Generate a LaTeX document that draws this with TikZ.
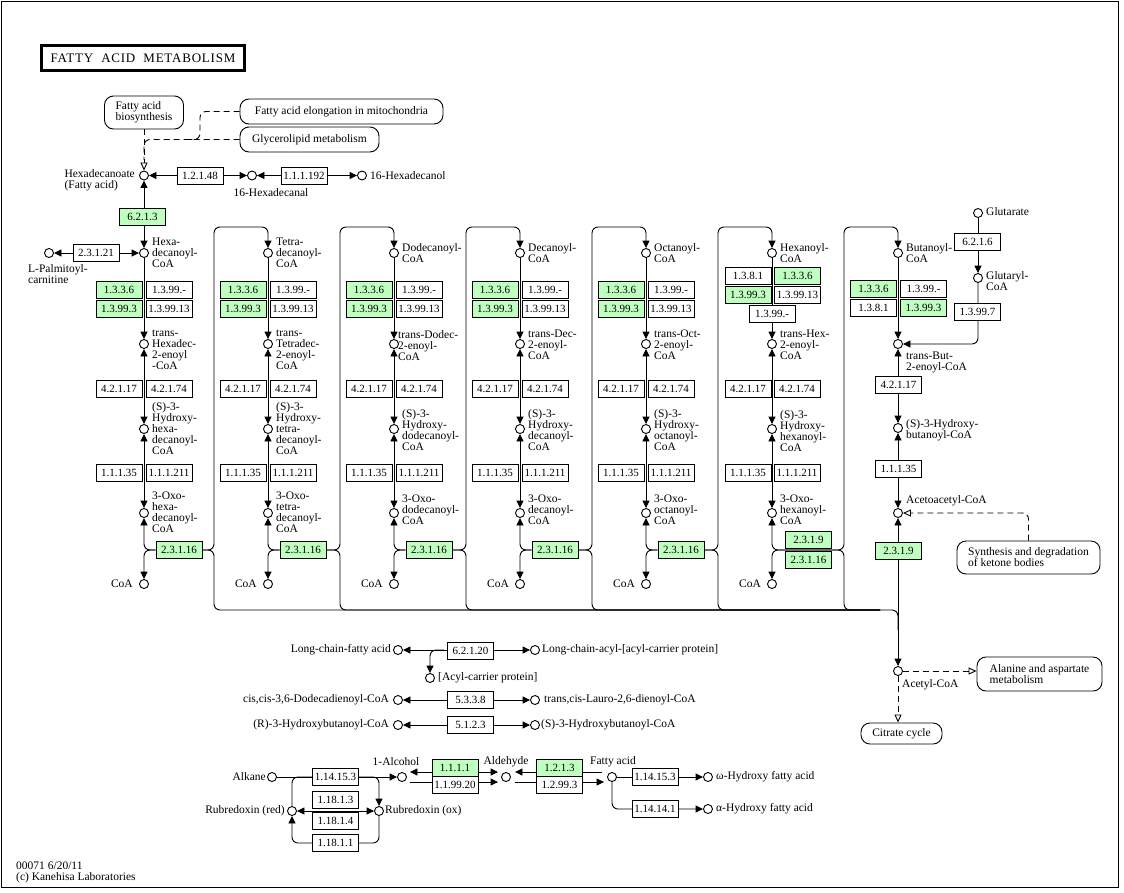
\documentclass[tikz,border=0pt]{standalone}
\usepackage{fontspec}
\setmainfont{Liberation Serif}
\newfontfamily\titlefont[LetterSpace=6]{Liberation Serif}
\usetikzlibrary{arrows.meta,backgrounds,positioning}
\definecolor{keggreen}{RGB}{191,255,191}

\begin{document}
\begin{tikzpicture}[x=1pt, y=-1pt, font=\fontsize{11.5}{11}\selectfont, >={Triangle[length=7.5pt,width=7pt]}]
	\tikzstyle{Cpd}    = [circle, draw, fill=white, minimum size=9pt, inner sep=0pt, line width=0.9pt]
	\tikzstyle{Enz}    = [rectangle, draw, fill=white, minimum width=46pt, minimum height=17pt, inner sep=0pt, line width=0.9pt, font=\fontsize{11}{11}\selectfont]
	\tikzstyle{GEnz}   = [Enz, fill=keggreen]
	\tikzstyle{MapBox} = [rectangle, rounded corners=9pt, draw, fill=white, align=left, inner sep=0pt, line width=0.9pt]
	\tikzstyle{Lbl}    = [inner sep=1pt, align=left]
	\tikzstyle{Rx}     = [line width=0.9pt]
	\tikzstyle{DashLn} = [line width=0.9pt, dash pattern=on 6pt off 4pt]
	\tikzstyle{MapTip} = [-{Triangle[open,length=8pt,width=7pt]}]

	\useasboundingbox (0,0) rectangle (1124,892);
	\draw[line width=1pt] (1.5,1.5) rectangle (1118.5,887.5);

	% title and pathway maps
	\node[draw, line width=2.5pt, minimum width=203pt, minimum height=25pt, inner sep=0pt] (title) at (143,58) {\titlefont\fontsize{13}{13}\selectfont FATTY\ \ ACID\ \ METABOLISM};
	\node[MapBox, minimum width=79pt, minimum height=33pt] (mFAB) at (144,112.5) {Fatty acid\\biosynthesis};
	\node[MapBox, minimum width=203pt, minimum height=25pt] (mElong) at (341.5,111.5) {Fatty acid elongation in mitochondria};
	\node[MapBox, minimum width=139pt, minimum height=25pt] (mGly) at (309.5,139.5) {Glycerolipid metabolism};
	\node[MapBox, minimum width=143pt, minimum height=33pt] (mKet) at (1028.5,557.5) {Synthesis and degradation\\of ketone bodies};
	\node[MapBox, minimum width=125pt, minimum height=34pt] (mAla) at (1039.5,674) {Alanine and aspartate\\metabolism};
	\node[MapBox, minimum width=81pt, minimum height=21pt] (mTCA) at (901.5,733.5) {Citrate cycle};

	% top row
	\node[Cpd] (hexa) at (144,175.5) {};
	\node[Lbl, anchor=east] (lhexa) at (136,180) {Hexadecanoate\\(Fatty acid)};
	\node[Enz] (eHal) at (200,175.5) {1.2.1.48};
	\node[Cpd] (hdal) at (252,175.5) {};
	\node[Lbl] (lhdal) at (271,193) {16-Hexadecanal};
	\node[Enz] (eHol) at (304,175.5) {1.1.1.192};
	\node[Cpd] (hdol) at (362,175.5) {};
	\node[Lbl, anchor=west] (lhdol) at (369,175.5) {16-Hexadecanol};
	\node[GEnz] (eAcs) at (142.5,216.5) {6.2.1.3};
	\node[Cpd] (pcarn) at (49,253) {};
	\node[Lbl, anchor=north west] (lpcarn) at (27,263) {L-Palmitoyl-\\carnitine};
	\node[Enz] (eCpt) at (96,253) {2.3.1.21};
	\coordinate (dj) at (144,160);
	\coordinate (dj2) at (200,139.5);
	\coordinate (dj1) at (188,139.5);

	% column 1: C16
	\node[Cpd] (c1a) at (144,253) {};
	\node[Cpd] (c1t) at (144,344) {};
	\node[Cpd] (c1h) at (144,429) {};
	\node[Cpd] (c1o) at (144,513) {};
	\node[Cpd] (c1c) at (144,584) {};
	\node[Lbl, anchor=west] (lc1a) at (151,253) {Hexa-\\decanoyl-\\CoA};
	\node[Lbl, anchor=north west] (lc1t) at (151,329) {trans-\\Hexadec-\\2-enoyl\\-CoA};
	\node[Lbl, anchor=west] (lc1h) at (151,429) {(S)-3-\\Hydroxy-\\hexa-\\decanoyl-\\CoA};
	\node[Lbl, anchor=west] (lc1o) at (151,512) {3-Oxo-\\hexa-\\decanoyl-\\CoA};
	\node[Lbl, anchor=east] (lc1c) at (134,584) {CoA};
	\node[GEnz] (c1d1) at (119,290) {1.3.3.6};
	\node[Enz]  (c1d2) at (169,290) {1.3.99.-};
	\node[GEnz] (c1d3) at (119,308.5) {1.3.99.3};
	\node[Enz]  (c1d4) at (169,308.5) {1.3.99.13};
	\node[Enz]  (c1w1) at (119,389) {4.2.1.17};
	\node[Enz]  (c1w2) at (169,389) {4.2.1.74};
	\node[Enz]  (c1r1) at (119,473) {1.1.1.35};
	\node[Enz]  (c1r2) at (169,473) {1.1.1.211};
	\node[GEnz] (c1k) at (179,550) {2.3.1.16};

	% column 2: C14
	\node[Cpd] (c2a) at (268,253) {};
	\node[Cpd] (c2t) at (268,344) {};
	\node[Cpd] (c2h) at (268,429) {};
	\node[Cpd] (c2o) at (268,513) {};
	\node[Cpd] (c2c) at (268,584) {};
	\node[Lbl, anchor=west] (lc2a) at (275,253) {Tetra-\\decanoyl-\\CoA};
	\node[Lbl, anchor=north west] (lc2t) at (275,329) {trans-\\Tetradec-\\2-enoyl-\\CoA};
	\node[Lbl, anchor=west] (lc2h) at (275,429) {(S)-3-\\Hydroxy-\\tetra-\\decanoyl-\\CoA};
	\node[Lbl, anchor=west] (lc2o) at (275,512) {3-Oxo-\\tetra-\\decanoyl-\\CoA};
	\node[Lbl, anchor=east] (lc2c) at (258,584) {CoA};
	\node[GEnz] (c2d1) at (243,290) {1.3.3.6};
	\node[Enz]  (c2d2) at (293,290) {1.3.99.-};
	\node[GEnz] (c2d3) at (243,308.5) {1.3.99.3};
	\node[Enz]  (c2d4) at (293,308.5) {1.3.99.13};
	\node[Enz]  (c2w1) at (243,389) {4.2.1.17};
	\node[Enz]  (c2w2) at (293,389) {4.2.1.74};
	\node[Enz]  (c2r1) at (243,473) {1.1.1.35};
	\node[Enz]  (c2r2) at (293,473) {1.1.1.211};
	\node[GEnz] (c2k) at (303,550) {2.3.1.16};

	% column 3: C12
	\node[Cpd] (c3a) at (394,253) {};
	\node[Cpd] (c3t) at (394,344) {};
	\node[Cpd] (c3h) at (394,429) {};
	\node[Cpd] (c3o) at (394,513) {};
	\node[Cpd] (c3c) at (394,584) {};
	\node[Lbl, anchor=west] (lc3a) at (401,253) {Dodecanoyl-\\CoA};
	\node[Lbl, anchor=north west] (lc3t) at (397,329) {trans-Dodec-\\2-enoyl-\\CoA};
	\node[Lbl, anchor=west] (lc3h) at (401,430) {(S)-3-\\Hydroxy-\\dodecanoyl-\\CoA};
	\node[Lbl, anchor=west] (lc3o) at (401,510) {3-Oxo-\\dodecanoyl-\\CoA};
	\node[Lbl, anchor=east] (lc3c) at (384,584) {CoA};
	\node[GEnz] (c3d1) at (369,290) {1.3.3.6};
	\node[Enz]  (c3d2) at (419,290) {1.3.99.-};
	\node[GEnz] (c3d3) at (369,308.5) {1.3.99.3};
	\node[Enz]  (c3d4) at (419,308.5) {1.3.99.13};
	\node[Enz]  (c3w1) at (369,389) {4.2.1.17};
	\node[Enz]  (c3w2) at (419,389) {4.2.1.74};
	\node[Enz]  (c3r1) at (369,473) {1.1.1.35};
	\node[Enz]  (c3r2) at (419,473) {1.1.1.211};
	\node[GEnz] (c3k) at (429,550) {2.3.1.16};

	% column 4: C10
	\node[Cpd] (c4a) at (520,253) {};
	\node[Cpd] (c4t) at (520,344) {};
	\node[Cpd] (c4h) at (520,429) {};
	\node[Cpd] (c4o) at (520,513) {};
	\node[Cpd] (c4c) at (520,584) {};
	\node[Lbl, anchor=west] (lc4a) at (527,253) {Decanoyl-\\CoA};
	\node[Lbl, anchor=north west] (lc4t) at (527,329) {trans-Dec-\\2-enoyl-\\CoA};
	\node[Lbl, anchor=west] (lc4h) at (527,430) {(S)-3-\\Hydroxy-\\decanoyl-\\CoA};
	\node[Lbl, anchor=west] (lc4o) at (527,510) {3-Oxo-\\decanoyl-\\CoA};
	\node[Lbl, anchor=east] (lc4c) at (510,584) {CoA};
	\node[GEnz] (c4d1) at (495,290) {1.3.3.6};
	\node[Enz]  (c4d2) at (545,290) {1.3.99.-};
	\node[GEnz] (c4d3) at (495,308.5) {1.3.99.3};
	\node[Enz]  (c4d4) at (545,308.5) {1.3.99.13};
	\node[Enz]  (c4w1) at (495,389) {4.2.1.17};
	\node[Enz]  (c4w2) at (545,389) {4.2.1.74};
	\node[Enz]  (c4r1) at (495,473) {1.1.1.35};
	\node[Enz]  (c4r2) at (545,473) {1.1.1.211};
	\node[GEnz] (c4k) at (555,550) {2.3.1.16};

	% column 5: C8
	\node[Cpd] (c5a) at (646,253) {};
	\node[Cpd] (c5t) at (646,344) {};
	\node[Cpd] (c5h) at (646,429) {};
	\node[Cpd] (c5o) at (646,513) {};
	\node[Cpd] (c5c) at (646,584) {};
	\node[Lbl, anchor=west] (lc5a) at (653,253) {Octanoyl-\\CoA};
	\node[Lbl, anchor=north west] (lc5t) at (653,329) {trans-Oct-\\2-enoyl-\\CoA};
	\node[Lbl, anchor=west] (lc5h) at (653,430) {(S)-3-\\Hydroxy-\\octanoyl-\\CoA};
	\node[Lbl, anchor=west] (lc5o) at (653,510) {3-Oxo-\\octanoyl-\\CoA};
	\node[Lbl, anchor=east] (lc5c) at (636,584) {CoA};
	\node[GEnz] (c5d1) at (621,290) {1.3.3.6};
	\node[Enz]  (c5d2) at (671,290) {1.3.99.-};
	\node[GEnz] (c5d3) at (621,308.5) {1.3.99.3};
	\node[Enz]  (c5d4) at (671,308.5) {1.3.99.13};
	\node[Enz]  (c5w1) at (621,389) {4.2.1.17};
	\node[Enz]  (c5w2) at (671,389) {4.2.1.74};
	\node[Enz]  (c5r1) at (621,473) {1.1.1.35};
	\node[Enz]  (c5r2) at (671,473) {1.1.1.211};
	\node[GEnz] (c5k) at (681,550) {2.3.1.16};

	% column 6: C6
	\node[Cpd] (c6a) at (772,253) {};
	\node[Cpd] (c6t) at (772,344) {};
	\node[Cpd] (c6h) at (772,429) {};
	\node[Cpd] (c6o) at (772,513) {};
	\node[Cpd] (c6c) at (772,584) {};
	\node[Lbl, anchor=west] (lc6a) at (779,253) {Hexanoyl-\\CoA};
	\node[Lbl, anchor=north west] (lc6t) at (779,329) {trans-Hex-\\2-enoyl-\\CoA};
	\node[Lbl, anchor=west] (lc6h) at (779,431) {(S)-3-\\Hydroxy-\\hexanoyl-\\CoA};
	\node[Lbl, anchor=west] (lc6o) at (779,510) {3-Oxo-\\hexanoyl-\\CoA};
	\node[Lbl, anchor=east] (lc6c) at (762,584) {CoA};
	\node[Enz]  (c6d1) at (748,276) {1.3.8.1};
	\node[GEnz] (c6d2) at (797.5,276) {1.3.3.6};
	\node[GEnz] (c6d3) at (748,294.5) {1.3.99.3};
	\node[Enz]  (c6d4) at (797.5,294.5) {1.3.99.13};
	\node[Enz]  (c6d5) at (772,314) {1.3.99.-};
	\node[Enz]  (c6w1) at (748,389) {4.2.1.17};
	\node[Enz]  (c6w2) at (797,389) {4.2.1.74};
	\node[Enz]  (c6r1) at (748,473) {1.1.1.35};
	\node[Enz]  (c6r2) at (797,473) {1.1.1.211};
	\node[GEnz] (c6k1) at (808.5,539.5) {2.3.1.9};
	\node[GEnz] (c6k2) at (808.5,560) {2.3.1.16};
	\coordinate (c6k) at (808.5,550);

	% column 7: C4
	\node[Cpd] (c7a) at (898,253) {};
	\node[Cpd] (c7t) at (898,344) {};
	\node[Cpd] (c7h) at (898,428) {};
	\node[Cpd] (c7o) at (898,513) {};
	\node[Cpd] (acet) at (898,671) {};
	\node[Lbl, anchor=west] (lc7a) at (905,253) {Butanoyl-\\CoA};
	\node[Lbl, anchor=north west] (lc7t) at (905,351) {trans-But-\\2-enoyl-CoA};
	\node[Lbl, anchor=west] (lc7h) at (905,430) {(S)-3-Hydroxy-\\butanoyl-CoA};
	\node[Lbl, anchor=west] (lc7o) at (905,501) {Acetoacetyl-CoA};
	\node[Lbl, anchor=west] (lacet) at (901,685) {Acetyl-CoA};
	\node[GEnz] (c7d1) at (873.5,288.5) {1.3.3.6};
	\node[Enz]  (c7d2) at (923.5,288.5) {1.3.99.-};
	\node[Enz]  (c7d3) at (873.5,307.5) {1.3.8.1};
	\node[GEnz] (c7d4) at (923.5,307.5) {1.3.99.3};
	\node[Enz]  (c7w) at (898.5,385) {4.2.1.17};
	\node[Enz]  (c7r) at (898.5,469) {1.1.1.35};
	\node[GEnz] (c7k) at (898.5,551) {2.3.1.9};
	\node[Cpd] (glt) at (978,213) {};
	\node[Lbl, anchor=west] (lglt) at (985,212) {Glutarate};
	\node[Enz] (eGcs) at (977.5,241.5) {6.2.1.6};
	\node[Cpd] (glc) at (978,278) {};
	\node[Lbl, anchor=west] (lglc) at (985,281) {Glutaryl-\\CoA};
	\node[Enz] (eGcd) at (977.5,311.5) {1.3.99.7};

	% single reactions
	\node[Cpd] (lcfa) at (398,650) {};
	\node[Lbl, anchor=east] (llcfa) at (392,650) {Long-chain-fatty acid};
	\node[Enz] (eAas) at (470.5,651) {6.2.1.20};
	\node[Cpd] (lcacp) at (535,650) {};
	\node[Lbl, anchor=west] (llcacp) at (541,650) {Long-chain-acyl-[acyl-carrier protein]};
	\node[Cpd] (acp) at (430,678) {};
	\node[Lbl, anchor=west] (lacp) at (437,678) {[Acyl-carrier protein]};
	\coordinate (acpj) at (444,650);
	\node[Cpd] (ccdd) at (398,700) {};
	\node[Lbl, anchor=east] (lccdd) at (390,700) {cis,cis-3,6-Dodecadienoyl-CoA};
	\node[Enz] (eIso) at (470.5,700) {5.3.3.8};
	\node[Cpd] (tcld) at (535,700) {};
	\node[Lbl, anchor=west] (ltcld) at (543,700) {trans,cis-Lauro-2,6-dienoyl-CoA};
	\node[Cpd] (rhb) at (398,725) {};
	\node[Lbl, anchor=east] (lrhb) at (390,725) {(R)-3-Hydroxybutanoyl-CoA};
	\node[Enz] (eEpi) at (470.5,725) {5.1.2.3};
	\node[Cpd] (shb) at (535,725) {};
	\node[Lbl, anchor=west] (lshb) at (540,725) {(S)-3-Hydroxybutanoyl-CoA};

	% alkane oxidation
	\node[Cpd] (alk) at (272,777) {};
	\node[Lbl, anchor=east] (lalk) at (267,777) {Alkane};
	\node[Enz] (eAlkA) at (335.5,777) {1.14.15.3};
	\node[Cpd] (alc) at (402,777) {};
	\node[Lbl] (lalc) at (396,762) {1-Alcohol};
	\node[Cpd] (rred) at (292,811) {};
	\node[Lbl, anchor=east] (lrred) at (286,811) {Rubredoxin (red)};
	\node[Cpd] (rox) at (379,811) {};
	\node[Lbl, anchor=west] (lrox) at (384,811) {Rubredoxin (ox)};
	\node[Enz] (eRub1) at (335.5,800) {1.18.1.3};
	\node[Enz] (eRub2) at (335.5,821) {1.18.1.4};
	\node[Enz] (eRub3) at (335.5,843) {1.18.1.1};
	\coordinate (rj1) at (312,777);
	\coordinate (rj2) at (359,777);
	\node[GEnz] (eAdh1) at (455,767.5) {1.1.1.1};
	\node[Enz]  (eAdh2) at (455,785) {1.1.99.20};
	\node[Cpd] (ald) at (506,777) {};
	\node[Lbl] (lald) at (506,762) {Aldehyde};
	\node[GEnz] (eAld1) at (559.5,767.5) {1.2.1.3};
	\node[Enz]  (eAld2) at (559.5,785) {1.2.99.3};
	\node[Cpd] (fa) at (612,777) {};
	\node[Lbl] (lfa) at (613,762) {Fatty acid};
	\node[Enz] (eAlkB) at (655,777) {1.14.15.3};
	\node[Enz] (eAlkC) at (655,809) {1.14.14.1};
	\node[Cpd] (ohfa) at (708,777) {};
	\node[Lbl, anchor=west] (lohfa) at (715,777) {ω-Hydroxy fatty acid};
	\node[Cpd] (ahfa) at (708,809) {};
	\node[Lbl, anchor=west] (lahfa) at (715,809) {α-Hydroxy fatty acid};

	\node[Lbl, anchor=north west] (foot) at (15,861) {00071 6/20/11\\(c) Kanehisa Laboratories};

	\begin{scope}[on background layer]
		% map links
		\draw[DashLn, MapTip] (mFAB) -- (hexa);
		\draw[DashLn, rounded corners=6pt] (mGly.west) -| (dj);
		\draw[DashLn, rounded corners=6pt] (mElong.west) -| (dj2) -- (dj1);
		\draw[DashLn, MapTip, rounded corners=6pt] (mKet.north) |- (c7o);
		\draw[DashLn, MapTip] (acet) -- (acet -| mAla.west);
		\draw[DashLn, MapTip] (acet) -- (acet |- mTCA.north);

		% top row
		\draw[Rx, <->] (hexa) -- (hdal);
		\draw[Rx, <->] (hdal) -- (hdol);
		\draw[Rx, <->] (hexa) -- (c1a);
		\draw[Rx, <->] (pcarn) -- (c1a);

		% beta-oxidation columns
		\draw[Rx, ->] (c1a) -- (c1t);
		\draw[Rx, <->] (c1t) -- (c1h);
		\draw[Rx, <->] (c1h) -- (c1o);
		\draw[Rx, <-, rounded corners=6pt] (c1o) |- (c1k.west);
		\draw[Rx, ->, rounded corners=6pt] (c1k.west) -| (c1c);
		\draw[Rx, ->, rounded corners=6pt] (c1k.east) -| (214,227) -| (c2a);
		\draw[Rx, rounded corners=6pt] (c1k.east) -| (214,610) -| (898,630);

		\draw[Rx, ->] (c2a) -- (c2t);
		\draw[Rx, <->] (c2t) -- (c2h);
		\draw[Rx, <->] (c2h) -- (c2o);
		\draw[Rx, <-, rounded corners=6pt] (c2o) |- (c2k.west);
		\draw[Rx, ->, rounded corners=6pt] (c2k.west) -| (c2c);
		\draw[Rx, ->, rounded corners=6pt] (c2k.east) -| (340,227) -| (c3a);
		\draw[Rx, rounded corners=6pt] (c2k.east) -| (340,610) -- (880,610);

		\draw[Rx, ->] (c3a) -- (c3t);
		\draw[Rx, <->] (c3t) -- (c3h);
		\draw[Rx, <->] (c3h) -- (c3o);
		\draw[Rx, <-, rounded corners=6pt] (c3o) |- (c3k.west);
		\draw[Rx, ->, rounded corners=6pt] (c3k.west) -| (c3c);
		\draw[Rx, ->, rounded corners=6pt] (c3k.east) -| (466,227) -| (c4a);
		\draw[Rx, rounded corners=6pt] (c3k.east) -| (466,610) -- (880,610);

		\draw[Rx, ->] (c4a) -- (c4t);
		\draw[Rx, <->] (c4t) -- (c4h);
		\draw[Rx, <->] (c4h) -- (c4o);
		\draw[Rx, <-, rounded corners=6pt] (c4o) |- (c4k.west);
		\draw[Rx, ->, rounded corners=6pt] (c4k.west) -| (c4c);
		\draw[Rx, ->, rounded corners=6pt] (c4k.east) -| (592,227) -| (c5a);
		\draw[Rx, rounded corners=6pt] (c4k.east) -| (592,610) -- (880,610);

		\draw[Rx, ->] (c5a) -- (c5t);
		\draw[Rx, <->] (c5t) -- (c5h);
		\draw[Rx, <->] (c5h) -- (c5o);
		\draw[Rx, <-, rounded corners=6pt] (c5o) |- (c5k.west);
		\draw[Rx, ->, rounded corners=6pt] (c5k.west) -| (c5c);
		\draw[Rx, ->, rounded corners=6pt] (c5k.east) -| (718,227) -| (c6a);
		\draw[Rx, rounded corners=6pt] (c5k.east) -| (718,610) -- (880,610);

		\draw[Rx, ->] (c6a) -- (c6t);
		\draw[Rx, <->] (c6t) -- (c6h);
		\draw[Rx, <->] (c6h) -- (c6o);
		\draw[Rx, <-, rounded corners=6pt] (c6o) |- (c6k);
		\draw[Rx, ->, rounded corners=6pt] (c6k) -| (c6c);
		\draw[Rx, ->, rounded corners=6pt] (c6k) -| (844,227) -| (c7a);
		\draw[Rx, rounded corners=6pt] (c6k) -| (844,610) -- (880,610);

		\draw[Rx, ->] (c7a) -- (c7t);
		\draw[Rx, ->] (glt) -- (glc);
		\draw[Rx, ->, rounded corners=6pt] (glc) |- (c7t);
		\draw[Rx, <->] (c7t) -- (c7h);
		\draw[Rx, <->] (c7h) -- (c7o);
		\draw[Rx, <->] (c7o) -- (acet);

		% single reactions
		\draw[Rx, <->] (lcfa) -- (lcacp);
		\draw[Rx, ->, rounded corners=6pt] (acpj) -| (acp);
		\draw[Rx, <->] (ccdd) -- (tcld);
		\draw[Rx, <->] (rhb) -- (shb);

		% alkane oxidation
		\draw[Rx, ->] (alk) -- (alc);
		\draw[Rx, rounded corners=6pt] (rred) |- (rj1);
		\draw[Rx, ->, rounded corners=6pt] (rj2) -| (rox);
		\draw[Rx, <->] (rred) -- (rox);
		\draw[Rx, ->, rounded corners=6pt] (rox) |- (eRub3) -| (rred);
		\draw[Rx, <->] ([shift={(3pt,5pt)}]alc.east) -- ([shift={(-3pt,5pt)}]ald.west);
		\draw[Rx, ->] ([shift={(3pt,-5pt)}]alc.east) -- ([shift={(-3pt,-5pt)}]ald.west);
		\draw[Rx, <-] ([shift={(4pt,5pt)}]ald.east) -- ([shift={(-5pt,5pt)}]fa.west);
		\draw[Rx, ->] ([shift={(4pt,-5pt)}]ald.east) -- ([shift={(-3pt,-5pt)}]fa.west);
		\draw[Rx, ->] (fa) -- (ohfa);
		\draw[Rx, ->, rounded corners=6pt] (fa) |- (ahfa);
	\end{scope}
\end{tikzpicture}
\end{document}
